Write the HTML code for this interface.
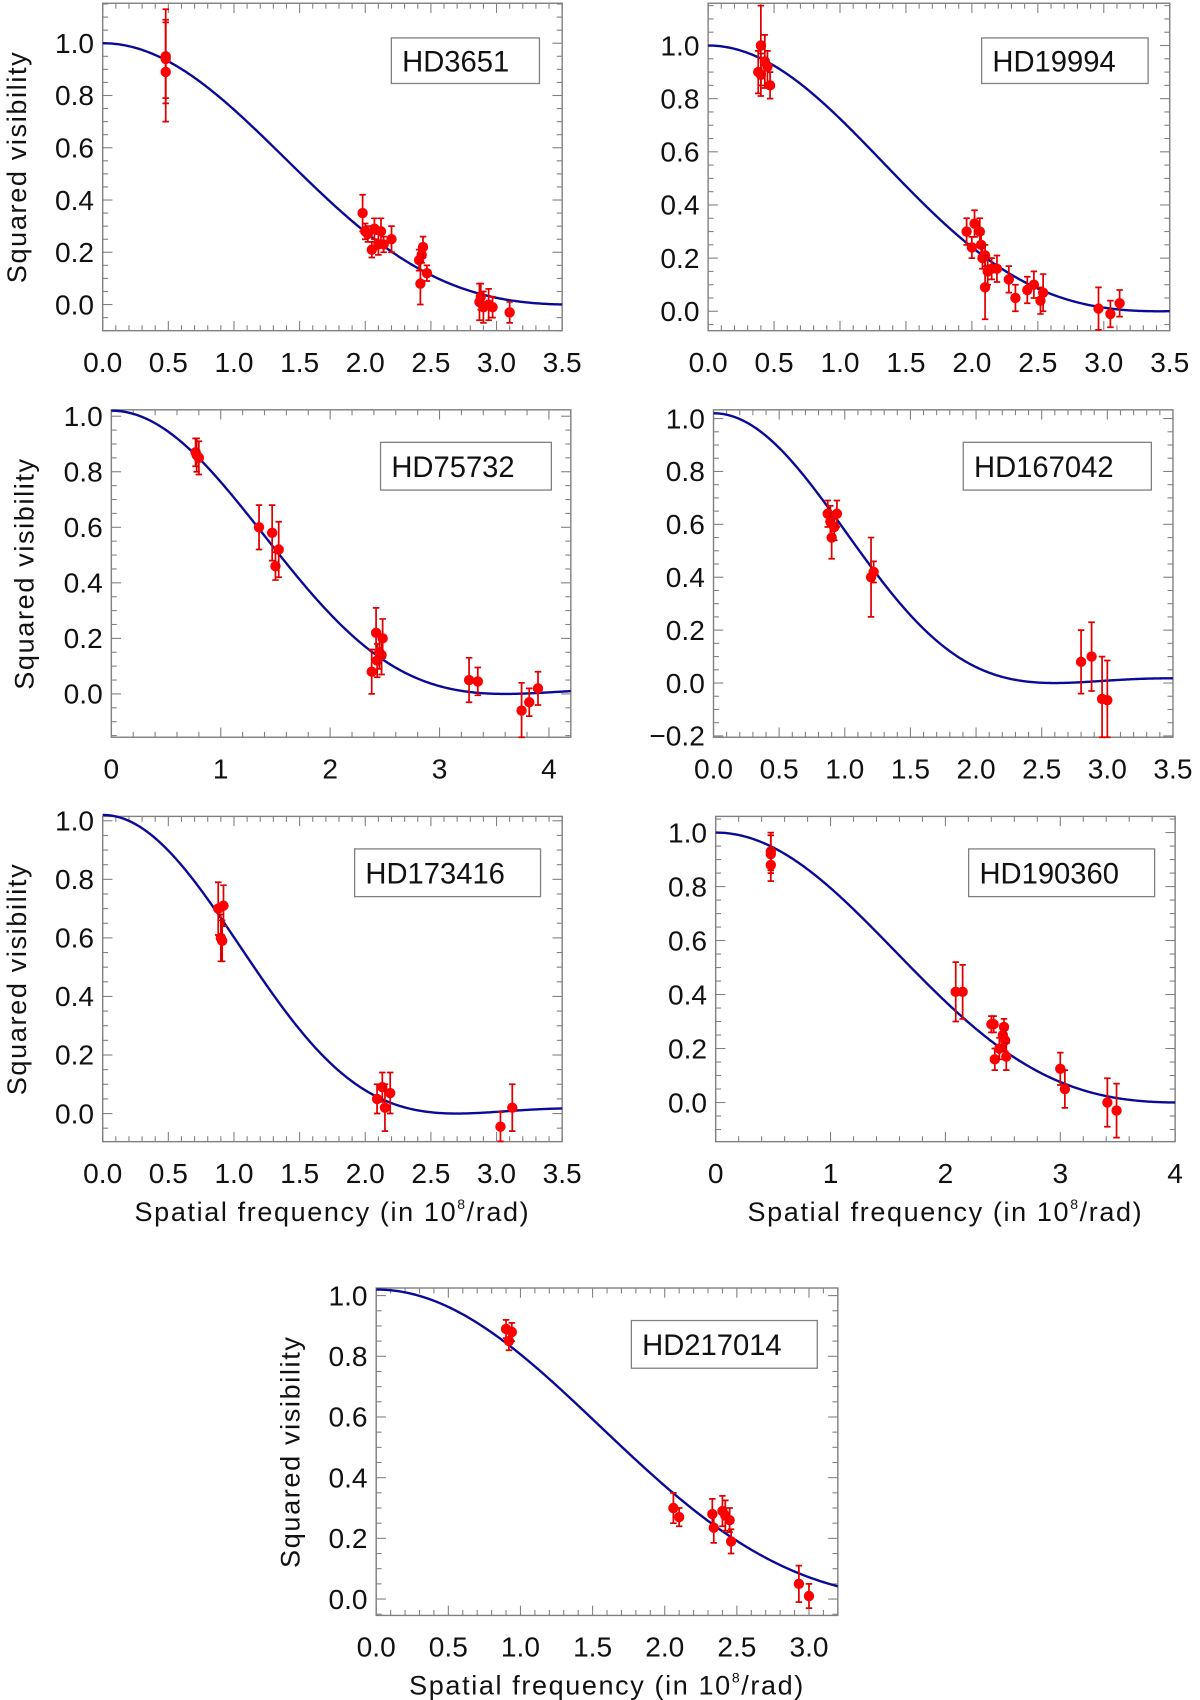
<!DOCTYPE html>
<html><head><meta charset="utf-8"><style>
html,body{margin:0;padding:0;background:#fff;}
svg{display:block;font-family:"Liberation Sans",sans-serif;}
</style></head><body>
<svg id="fig" width="1200" height="1700" viewBox="0 0 1110 1568" preserveAspectRatio="none" xmlns="http://www.w3.org/2000/svg"></svg>
<script>
const starNames = ["HD3651","HD19994","HD75732","HD167042","HD173416","HD190360","HD217014"];
const p1x=[0.48,0.48,0.48,1.98,2.0,2.02,2.05,2.07,2.1,2.12,2.14,2.2,2.41,2.42,2.43,2.44,2.47,2.87,2.88,2.9,2.94,2.97,3.1];
const p1y=[0.95,0.94,0.89,0.35,0.28,0.27,0.21,0.29,0.23,0.28,0.23,0.25,0.17,0.08,0.19,0.22,0.12,0.01,0.03,-0.01,0.0,-0.01,-0.03];
const p1e=[0.18,0.15,0.19,0.07,0.03,0.03,0.03,0.04,0.04,0.05,0.03,0.05,0.04,0.08,0.03,0.04,0.03,0.07,0.05,0.06,0.06,0.04,0.04];
const p2x=[0.38,0.40,0.40,0.43,0.45,0.47,1.96,2.0,2.02,2.06,2.07,2.08,2.1,2.1,2.12,2.15,2.19,2.28,2.33,2.42,2.47,2.52,2.54,2.96,3.05,3.12];
const p2y=[0.90,1.0,0.89,0.94,0.92,0.85,0.30,0.24,0.33,0.30,0.25,0.20,0.21,0.09,0.15,0.16,0.16,0.12,0.05,0.08,0.10,0.04,0.07,0.01,-0.01,0.03];
const p2e=[0.08,0.15,0.08,0.1,0.06,0.05,0.05,0.04,0.05,0.05,0.04,0.04,0.04,0.12,0.05,0.04,0.05,0.05,0.05,0.05,0.05,0.05,0.07,0.08,0.05,0.05];
const p3x=[0.77,0.78,0.80,1.35,1.47,1.50,1.53,2.38,2.42,2.43,2.45,2.47,2.48,3.27,3.35,3.75,3.82,3.9];
const p3y=[0.87,0.86,0.85,0.60,0.58,0.46,0.52,0.08,0.22,0.12,0.15,0.14,0.20,0.05,0.045,-0.06,-0.03,0.02];
const p3e=[0.05,0.06,0.06,0.08,0.1,0.05,0.1,0.08,0.09,0.06,0.06,0.07,0.07,0.08,0.05,0.1,0.05,0.06];
const p4x=[0.87,0.89,0.90,0.92,0.94,1.2,1.22,2.8,2.88,2.96,3.0];
const p4y=[0.64,0.61,0.55,0.59,0.64,0.40,0.42,0.08,0.10,-0.06,-0.065];
const p4e=[0.05,0.06,0.08,0.05,0.05,0.15,0.04,0.12,0.13,0.16,0.15];
const p5x=[0.88,0.90,0.91,0.92,2.09,2.13,2.15,2.19,3.03,3.12];
const p5y=[0.70,0.60,0.59,0.71,0.05,0.09,0.02,0.07,-0.045,0.02];
const p5e=[0.09,0.08,0.07,0.07,0.05,0.05,0.08,0.07,0.05,0.08];
const p6x=[0.48,0.48,0.48,2.09,2.15,2.4,2.42,2.43,2.47,2.5,2.51,2.52,2.53,3.0,3.04,3.41,3.49];
const p6y=[0.93,0.92,0.88,0.41,0.41,0.29,0.29,0.16,0.20,0.25,0.28,0.23,0.17,0.125,0.05,0.0,-0.03];
const p6e=[0.07,0.07,0.06,0.11,0.1,0.03,0.03,0.04,0.04,0.04,0.03,0.04,0.05,0.06,0.07,0.09,0.1];
const p7x=[0.9,0.92,0.94,2.06,2.1,2.33,2.34,2.4,2.42,2.45,2.46,2.93,3.0];
const p7y=[0.89,0.85,0.88,0.30,0.27,0.28,0.235,0.29,0.275,0.26,0.19,0.05,0.01];
const p7e=[0.03,0.03,0.03,0.05,0.03,0.05,0.05,0.05,0.05,0.04,0.04,0.06,0.04];
const xTicks1=["0.0","0.5","1.0","1.5","2.0","2.5","3.0","3.5"];
const xTicks3=["0","1","2","3","4"];
const xTicks7=["0.0","0.5","1.0","1.5","2.0","2.5","3.0"];
const yTicks=["0.0","0.2","0.4","0.6","0.8","1.0"];
const yTicks4=["-0.2","0.0","0.2","0.4","0.6","0.8","1.0"];
const fitScale=[1.07,1.12,1.064,1.474,1.42,0.95,0.96];
const fitAmp=[1.0,1.0,1.02,1.02,1.02,1.0,1.02];

const panels=[
 {L:95,R:520,T:3,B:305,x0:0,x1:3.5,y0:-0.1,y1:1.153,xs:xTicks1,ys:yTicks,xt:0.5,ytl:15,X:p1x,Y:p1y,E:p1e,lg:[362,35,137,42],xtitle:false},
 {L:655,R:1082,T:3,B:305,x0:0,x1:3.5,y0:-0.073,y1:1.159,xs:xTicks1,ys:yTicks,xt:0.5,ytl:null,X:p2x,Y:p2y,E:p2e,lg:[908,35,154,42],xtitle:false},
 {L:103,R:528,T:378,B:680,x0:0,x1:4.2,y0:-0.156,y1:1.023,xs:xTicks3,ys:yTicks,xt:1,ytl:22,X:p3x,Y:p3y,E:p3e,lg:[352,408,158,44],xtitle:false},
 {L:660,R:1085,T:378,B:680,x0:0,x1:3.5,y0:-0.205,y1:1.033,xs:xTicks1,ys:yTicks4,xt:0.5,ytl:null,X:p4x,Y:p4y,E:p4e,lg:[891,408,174,44],xtitle:false},
 {L:95,R:520,T:753,B:1053,x0:0,x1:3.5,y0:-0.096,y1:1.015,xs:xTicks1,ys:yTicks,xt:0.5,ytl:15,X:p5x,Y:p5y,E:p5e,lg:[328,783,172,44],xtitle:true},
 {L:662,R:1087,T:753,B:1053,x0:0,x1:4,y0:-0.145,y1:1.06,xs:xTicks3,ys:yTicks,xt:1,ytl:null,X:p6x,Y:p6y,E:p6e,lg:[896,783,172,44],xtitle:true},
 {L:348,R:775,T:1188,B:1490,x0:0,x1:3.2,y0:-0.054,y1:1.025,xs:xTicks7,ys:yTicks,xt:0.5,ytl:268,X:p7x,Y:p7y,E:p7e,lg:[584,1218,172,44],xtitle:true}
];
const NS="http://www.w3.org/2000/svg";
const svg=document.getElementById('fig');
function mk(t,a,p){const e=document.createElementNS(NS,t);for(const k in a)e.setAttribute(k,a[k]);(p||svg).appendChild(e);return e;}
function J1(x){let s=0,t=x/2;for(let k=0;k<30;k++){s+=t;t*=-(x*x/4)/((k+1)*(k+2));}return s;}
function ud(x){return x<1e-6?1:Math.pow(2*J1(x)/x,2);}

panels.forEach((p,i)=>{
  const g=mk('g',{});
  
  
  const sx=v=>p.L+(v-p.x0)/(p.x1-p.x0)*(p.R-p.L);
  const sy=v=>p.B-(v-p.y0)/(p.y1-p.y0)*(p.B-p.T);
  const box=mk('rect',{x:p.L,y:p.T,width:p.R-p.L,height:p.B-p.T,fill:'none',stroke:'#808080','stroke-width':1.3},g);
  
  
  const minorX=p.xt/5;
  for(let v=p.x0;v<=p.x1+1e-9;v+=minorX){
    const k=Math.round(v/minorX);const major=k%5===0;const len=major?9:5;
    mk('line',{x1:sx(v),x2:sx(v),y1:p.B,y2:p.B-len,stroke:'#808080','stroke-width':1},g);
    mk('line',{x1:sx(v),x2:sx(v),y1:p.T,y2:p.T+len,stroke:'#808080','stroke-width':1},g);
  }
  p.xs.forEach(s=>{const v=parseFloat(s);
    const t=mk('text',{x:sx(v),y:p.B+38,'font-size':26,'text-anchor':'middle',fill:'#111'},g);t.textContent=s;
    
    });
  const yStart=Math.ceil(p.y0/0.05)*0.05;
  for(let v=yStart;v<=p.y1+1e-9;v+=0.05){
    const k=Math.round(v/0.05);const major=k%4===0;const len=major?9:5;
    mk('line',{x1:p.L,x2:p.L+len,y1:sy(v),y2:sy(v),stroke:'#808080','stroke-width':1},g);
    mk('line',{x1:p.R,x2:p.R-len,y1:sy(v),y2:sy(v),stroke:'#808080','stroke-width':1},g);
  }
  p.ys.forEach(s=>{const v=parseFloat(s);
    const t=mk('text',{x:p.L-8,y:sy(v)+9,'font-size':26,'text-anchor':'end',fill:'#111'},g);t.textContent=s.replace('-','\u2212');
    
    });
  if(p.ytl!==null){
    const cy=(p.T+p.B)/2;
    const t=mk('text',{x:p.ytl,y:cy,'font-size':25,'text-anchor':'middle','letter-spacing':'1.5',fill:'#111',transform:`rotate(-90 ${p.ytl} ${cy}) translate(0 9)`},g);
    t.textContent='Squared  visibility';
    
    
  }
  if(p.xtitle){
    const t=mk('text',{x:(p.L+p.R)/2,y:p.B+73,'font-size':25,'text-anchor':'middle','letter-spacing':'1.5',fill:'#111'},g);
    t.innerHTML='Spatial  frequency  (in  10<tspan font-size="13" dy="-11">8</tspan><tspan dy="11">/rad)</tspan>';
    
    
  }
  let d='';
  for(let k=0;k<=300;k++){const v=p.x0+(p.x1-p.x0)*k/300;const y=fitAmp[i]*ud(fitScale[i]*v);
    d+=(k?'L':'M')+sx(v).toFixed(2)+','+sy(y).toFixed(2);}
  const cv=mk('path',{d:d,fill:'none',stroke:'#0a0a96','stroke-width':2.2},g);
  
  
  p.X.forEach((xv,j)=>{
    const yv=p.Y[j],e=p.E[j];
    const cx=sx(xv);
    const ytop=Math.max(sy(yv+e),p.T),ybot=Math.min(sy(yv-e),p.B);
    const eb=mk('path',{d:`M${cx},${ytop}V${ybot}M${cx-3},${ytop}h6M${cx-3},${ybot}h6`,stroke:'#e00000','stroke-width':1.6,fill:'none'},g);
    
    
    const c=mk('circle',{cx:cx,cy:sy(yv),r:4.8,fill:'#ff0000'},g);
    
    
  });
  const [lx,ly,lw,lh]=p.lg;
  const lb=mk('rect',{x:lx,y:ly,width:lw,height:lh,fill:'#fff',stroke:'#808080','stroke-width':1.2},g);
  
  
  const lt=mk('text',{x:lx+10,y:ly+lh/2+10,'font-size':27,fill:'#111'},g);
  lt.textContent=starNames[i];
  
  
});
</script>
</body></html>
